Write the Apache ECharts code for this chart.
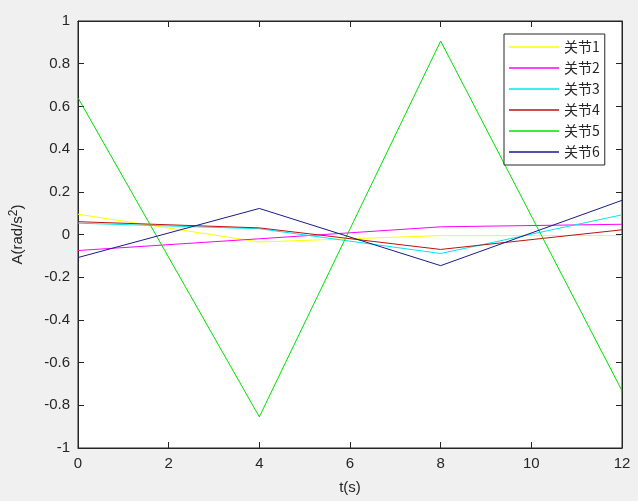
<!DOCTYPE html>
<html>
<head>
<meta charset="utf-8">
<script src="https://cdn.jsdelivr.net/npm/echarts@6/dist/echarts.min.js"></script>
<style>
  html, body { margin: 0; padding: 0; background: #f0f0f0; }
  #chart { width: 638px; height: 501px; }
</style>
</head>
<body>
<div id="chart"></div>
<script>
// 时间点 t(s)
var tList = [0, 4, 8, 12];
// 各关节角加速度
var joint1 = [0.095, -0.035, -0.005, -0.005];
var joint2 = [-0.075, -0.02, 0.036, 0.048];
var joint3 = [0.053, 0.027, -0.089, 0.092];
var joint4 = [0.06, 0.031, -0.07, 0.022];
var joint5 = [0.64, -0.854, 0.906, -0.732];
var joint6 = [-0.108, 0.122, -0.146, 0.16];
var names = ['关节1', '关节2', '关节3', '关节4', '关节5', '关节6'];
var colors = ['#ffff00', '#ff00ff', '#00e8e8', '#c01010', '#00e000', '#1a1a8c'];
var allData = [joint1, joint2, joint3, joint4, joint5, joint6];

function labelFont() {
  return { color: '#262626', fontSize: 15, fontFamily: 'Liberation Sans, Arial, sans-serif' };
}
function tickStyle() {
  return { show: true, inside: true, length: 6, lineStyle: { color: '#262626', width: 1 } };
}

function pairs(arr) {
  var out = [];
  for (var i = 0; i < tList.length; i++) {
    out.push([tList[i], arr[i]]);
  }
  return out;
}

var seriesList = [];
for (var i = 0; i < names.length; i++) {
  seriesList.push({
    name: names[i],
    type: 'line',
    data: pairs(allData[i]),
    symbol: 'none',
    lineStyle: { width: 1, color: colors[i] },
    itemStyle: { color: colors[i] },
    animation: false
  });
}
// 右上坐标轴占位（无数据）
seriesList.push({ type: 'line', xAxisIndex: 1, yAxisIndex: 1, data: [], symbol: 'none', silent: true });

var myChart = echarts.init(document.getElementById('chart'));
myChart.setOption({
  backgroundColor: '#f0f0f0',
  grid: {
    left: 78, right: 16, top: 21, bottom: 53,
    show: true, backgroundColor: '#ffffff', borderWidth: 1, borderColor: '#262626'
  },
  legend: {
    orient: 'vertical',
    left: 504, top: 34,
    padding: [6, 5, 6, 5],
    icon: 'rect',
    itemWidth: 50, itemHeight: 1.5, itemGap: 7,
    backgroundColor: '#ffffff',
    borderColor: '#262626', borderWidth: 1, borderRadius: 0,
    textStyle: { fontSize: 14, lineHeight: 14, color: '#262626', fontFamily: 'Noto Sans CJK SC, sans-serif' },
    data: names
  },
  xAxis: [
    {
      type: 'value', min: 0, max: 12, interval: 2,
      name: 't(s)', nameLocation: 'middle', nameGap: 32,
      nameTextStyle: labelFont(),
      axisLine: { show: true, onZero: false, lineStyle: { color: '#262626' } },
      axisTick: tickStyle(),
      axisLabel: Object.assign({ margin: 8 }, labelFont()),
      splitLine: { show: false }
    },
    {
      type: 'value', min: 0, max: 12, interval: 2, position: 'top',
      axisLine: { show: true, onZero: false, lineStyle: { color: '#262626' } },
      axisTick: tickStyle(),
      axisLabel: { show: false },
      splitLine: { show: false }
    }
  ],
  yAxis: [
    {
      type: 'value', min: -1, max: 1, interval: 0.2,
      name: '{a|A(rad/s}{s|2}{a|)}', nameLocation: 'middle', nameGap: 50,
      nameTextStyle: {
        rich: {
          a: { fontSize: 15, color: '#262626', fontFamily: 'Liberation Sans, Arial, sans-serif' },
          s: { fontSize: 12, color: '#262626', fontFamily: 'Liberation Sans, Arial, sans-serif', verticalAlign: 'top', padding: [0, 0, 8, 0] }
        }
      },
      axisLine: { show: true, onZero: false, lineStyle: { color: '#262626' } },
      axisTick: tickStyle(),
      axisLabel: Object.assign({ margin: 8, formatter: function (v) { return String(Math.round(v * 10) / 10); } }, labelFont()),
      splitLine: { show: false }
    },
    {
      type: 'value', min: -1, max: 1, interval: 0.2, position: 'right',
      axisLine: { show: true, onZero: false, lineStyle: { color: '#262626' } },
      axisTick: tickStyle(),
      axisLabel: { show: false },
      splitLine: { show: false }
    }
  ],
  series: seriesList
});
</script>
</body>
</html>
